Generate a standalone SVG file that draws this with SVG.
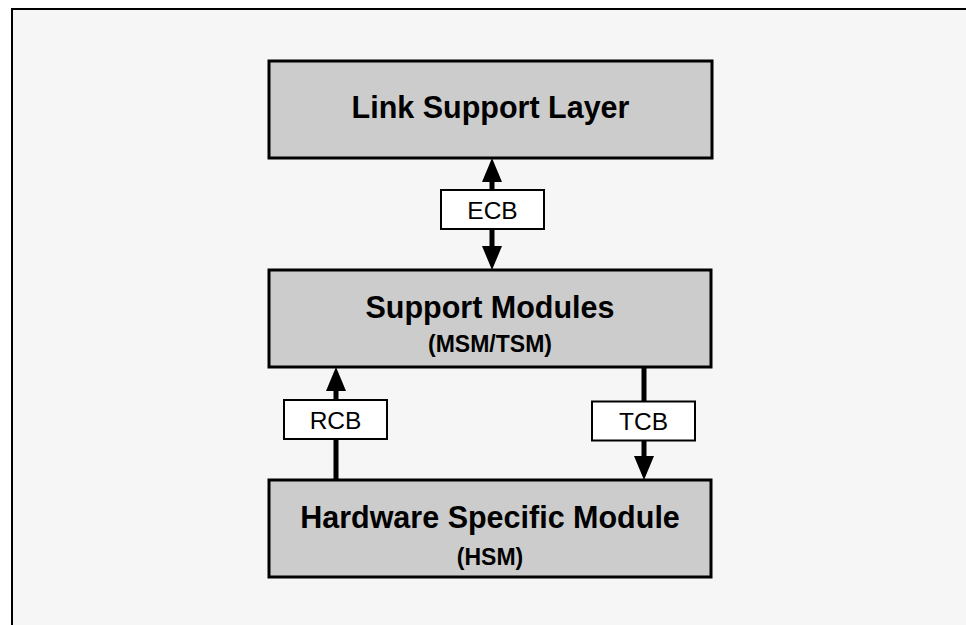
<svg xmlns="http://www.w3.org/2000/svg" width="966" height="625" viewBox="0 0 966 625">
  <style>
    .frame { fill: #f6f6f6; stroke: #000; stroke-width: 2; }
    .node rect { fill: #cccccc; stroke: #000; stroke-width: 3; }
    .title { font-family: "Liberation Sans", Arial, sans-serif; font-weight: bold; font-size: 30.5px; text-anchor: middle; fill: #000; }
    .sub { font-family: "Liberation Sans", Arial, sans-serif; font-weight: bold; font-size: 23px; text-anchor: middle; fill: #000; }
    .conn line { stroke: #000; stroke-width: 5; }
    .lbl rect { fill: #fff; stroke: #000; stroke-width: 2; }
    .lbl text { font-family: "Liberation Sans", Arial, sans-serif; font-size: 24.5px; text-anchor: middle; fill: #000; }
  </style>
  <defs>
    <marker id="arr" markerUnits="userSpaceOnUse" markerWidth="24" markerHeight="20" viewBox="0 0 24 20" refX="2" refY="10" orient="auto-start-reverse">
      <path d="M0,0 L24,10 L0,20 z" fill="#000"/>
    </marker>
  </defs>
  <rect class="frame" x="12" y="9" width="970" height="630"/>

  <g id="connectors" class="conn">
    <line id="ecb-line" x1="492" y1="180" x2="492" y2="248" marker-start="url(#arr)" marker-end="url(#arr)"/>
    <line id="rcb-line" x1="336" y1="480" x2="336" y2="389" marker-end="url(#arr)"/>
    <line id="tcb-line" x1="644" y1="367" x2="644" y2="458" marker-end="url(#arr)"/>
    <g class="lbl">
      <rect x="441" y="190" width="103" height="39"/>
      <text x="492.5" y="219">ECB</text>
      <rect x="284" y="400" width="103" height="39"/>
      <text x="335.5" y="429">RCB</text>
      <rect x="592" y="401.5" width="103" height="39"/>
      <text x="643.5" y="430">TCB</text>
    </g>
  </g>

  <g id="lsl" class="node">
    <rect x="269" y="61" width="443" height="97"/>
    <text class="title" x="490.5" y="118">Link Support Layer</text>
  </g>
  <g id="support-modules" class="node">
    <rect x="269" y="270" width="442" height="97"/>
    <text class="title" x="490" y="318">Support Modules</text>
    <text class="sub" x="490" y="351.5">(MSM/TSM)</text>
  </g>
  <g id="hsm" class="node">
    <rect x="269" y="480" width="442" height="97"/>
    <text class="title" x="490" y="528">Hardware Specific Module</text>
    <text class="sub" x="490" y="565">(HSM)</text>
  </g>
</svg>
